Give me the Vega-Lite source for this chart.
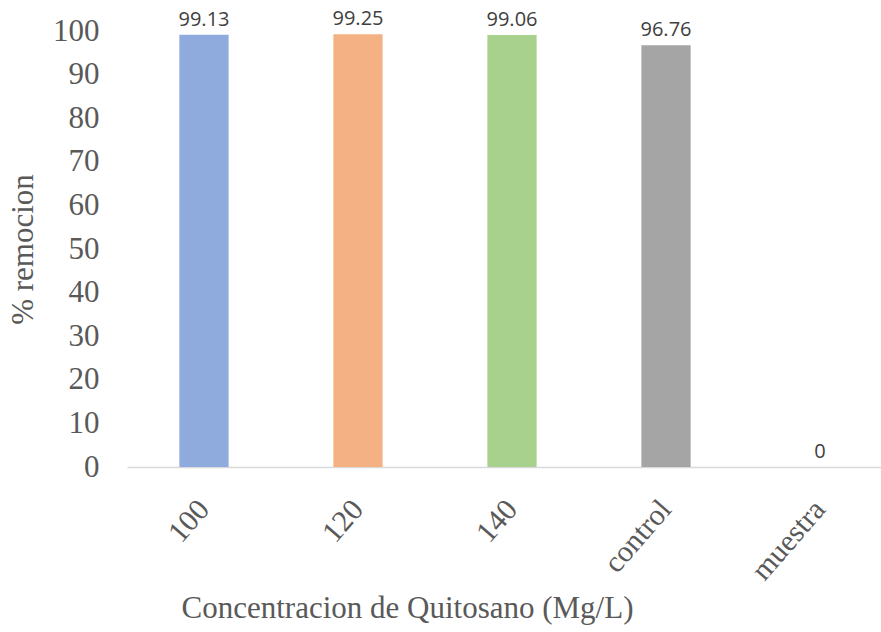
{
  "$schema": "https://vega.github.io/schema/vega-lite/v6.json",
  "autosize": {"type": "none"},
  "width": 754,
  "height": 436,
  "padding": {"left": 127, "top": 31, "right": 0, "bottom": 165},
  "background": "white",
  "config": {"view": {"stroke": null}},
  "data": {"values": [
    {"conc": "100", "remocion": 99.13},
    {"conc": "120", "remocion": 99.25},
    {"conc": "140", "remocion": 99.06},
    {"conc": "control", "remocion": 96.76},
    {"conc": "muestra", "remocion": 0}
  ]},
  "encoding": {
    "x": {
      "field": "conc", "type": "nominal", "sort": null,
      "scale": {"range": [0, 770], "paddingInner": 0.68, "paddingOuter": 0.34},
      "axis": {
        "title": "Concentracion de Quitosano (Mg/L)",
        "titleFont": "Liberation Serif", "titleFontSize": 31, "titleFontWeight": "normal", "titleColor": "#595959",
        "titleAnchor": "start", "titleAlign": "center", "titleX": 280, "titleY": 150, "titleBaseline": "alphabetic",
        "labelFont": "Liberation Serif", "labelFontSize": 30, "labelColor": "#595959",
        "labelAngle": -49, "labelAlign": "right", "labelBaseline": "middle", "labelPadding": 37,
        "ticks": false, "domainColor": "#D9D9D9", "domainWidth": 1.5, "grid": false
      }
    },
    "y": {
      "field": "remocion", "type": "quantitative",
      "scale": {"domain": [0, 100]},
      "axis": {
        "title": "% remocion", "values": [0,10,20,30,40,50,60,70,80,90,100],
        "titleFont": "Liberation Serif", "titleFontSize": 31, "titleFontWeight": "normal", "titleColor": "#595959",
        "titlePadding": 13,
        "labelFont": "Liberation Serif", "labelFontSize": 31, "labelColor": "#595959", "labelPadding": 28,
        "ticks": false, "domain": false, "grid": false
      }
    }
  },
  "layer": [
    {
      "mark": {"type": "bar"},
      "encoding": {
        "color": {
          "field": "conc", "type": "nominal", "legend": null,
          "scale": {"domain": ["100", "120", "140", "control", "muestra"],
                    "range": ["#8FAADC", "#F4B183", "#A9D18E", "#A5A5A5", "#FFD966"]}
        }
      }
    },
    {
      "mark": {"type": "text", "baseline": "alphabetic", "dy": -9, "font": "Open Sans", "fontSize": 20, "fill": "#404040"},
      "encoding": {"text": {"field": "remocion", "type": "quantitative"}}
    }
  ]
}
